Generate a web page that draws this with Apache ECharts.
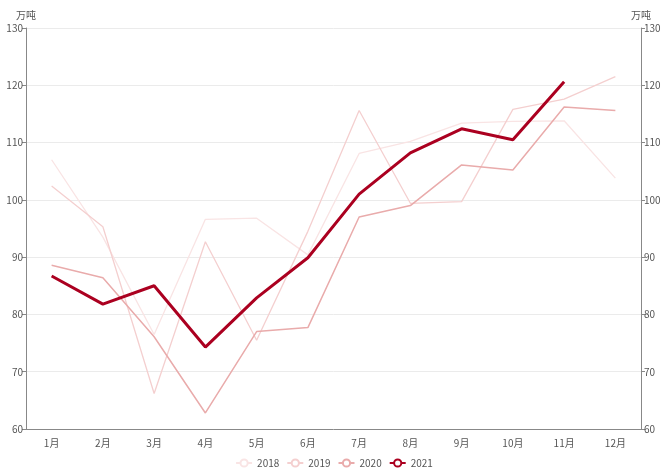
<!DOCTYPE html>
<html>
<head>
<meta charset="utf-8">
<script src="https://cdn.jsdelivr.net/npm/echarts@6/dist/echarts.min.js"></script>
<style>
  html, body { margin: 0; padding: 0; background: #fff; }
  #chart { width: 668px; height: 476px; }
</style>
</head>
<body>
<div id="chart"></div>
<script>
const months = ["1月", "2月", "3月", "4月", "5月", "6月", "7月", "8月", "9月", "10月", "11月", "12月"];
const years = ["2018", "2019", "2020", "2021"];

const data2018 = [107.0, 93.5, 76.5, 96.6, 96.8, 90.4, 108.1, 110.2, 113.4, 113.7, 113.8, 103.8];
const data2019 = [102.4, 95.3, 66.2, 92.7, 75.5, 94.5, 115.6, 99.4, 99.7, 115.8, 117.6, 121.5];
const data2020 = [88.6, 86.4, 76.1, 62.8, 77.0, 77.7, 97.0, 99.0, 106.1, 105.2, 116.2, 115.6];
const data2021 = [86.7, 81.8, 85.0, 74.3, 82.9, 89.9, 101.0, 108.2, 112.4, 110.5, 120.6, null];

const yMin = 60;
const yMax = 130;
const yStep = 10;

const chart = echarts.init(document.getElementById("chart"));

const axisText = { color: "#555", fontSize: 10, fontFamily: "Noto Sans CJK SC" };

const yAxisBase = {
  type: "value",
  name: "万吨",
  nameGap: 8,
  nameTextStyle: axisText,
  min: yMin,
  max: yMax,
  interval: yStep,
  axisLine: { show: true, lineStyle: { color: "#888" } },
  axisTick: { show: true, length: 4, lineStyle: { color: "#888" } },
  axisLabel: Object.assign({ margin: 3 }, axisText),
};

const makeSeries = (name, data, color, width, z) => ({
  name: name,
  type: "line",
  data: data,
  symbol: "emptyCircle",
  symbolSize: 7,
  showSymbol: false,
  z: z,
  itemStyle: { color: color },
  lineStyle: { color: color, width: width },
});

chart.setOption({
  animation: false,
  grid: { left: 26, right: 27, top: 28, bottom: 47 },
  legend: {
    data: years,
    bottom: 3,
    left: "center",
    itemWidth: 16,
    itemHeight: 9,
    itemGap: 7,
    textStyle: axisText,
  },
  xAxis: {
    type: "category",
    data: months,
    boundaryGap: true,
    axisLine: { lineStyle: { color: "#888" } },
    axisTick: { alignWithLabel: true, length: 5, lineStyle: { color: "#888" } },
    axisLabel: Object.assign({ margin: 9 }, axisText),
  },
  yAxis: [
    Object.assign({}, yAxisBase, {
      position: "left",
      splitLine: { show: true, lineStyle: { color: "#ebebeb" } },
    }),
    Object.assign({}, yAxisBase, {
      position: "right",
      splitLine: { show: false },
    }),
  ],
  series: [
    makeSeries("2018", data2018, "#f9e4e4", 1.3, 1),
    makeSeries("2019", data2019, "#f4cfcf", 1.3, 2),
    makeSeries("2020", data2020, "#e9abab", 1.5, 3),
    makeSeries("2021", data2021, "#ab0020", 3, 4),
  ],
});
</script>
</body>
</html>
